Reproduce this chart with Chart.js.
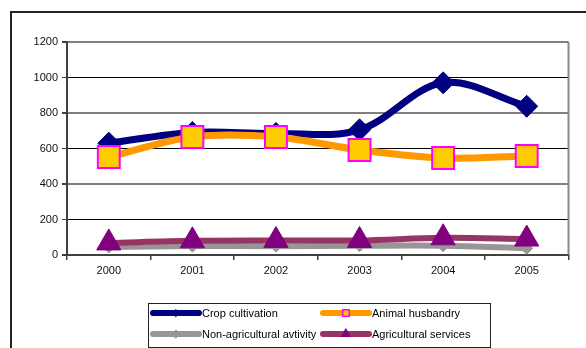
<!DOCTYPE html>
<html>
<head>
<meta charset="utf-8">
<script src="https://cdn.jsdelivr.net/npm/chart.js@4"></script>
<style>
  html, body { margin: 0; padding: 0; background: #fff; }
  #wrap { width: 586px; height: 348px; position: relative; }
</style>
</head>
<body>
<div id="wrap"><canvas id="chart" width="586" height="348"></canvas></div>
<script>
const years = ['2000', '2001', '2002', '2003', '2004', '2005'];
const cropCultivation = [630, 690, 685, 705, 970, 838];
const animalHusbandry = [552, 665, 665, 592, 546, 558];
const nonAgricultural = [45, 50, 50, 52, 52, 38];
const agriServices = [68, 80, 82, 82, 97, 90];
const yMin = 0, yMax = 1200, yStep = 200;

const FONT = '"Liberation Sans", Arial, sans-serif';

// outer frame + right border of the plot area
const framePlugin = {
    id: 'frame',
    beforeDraw(chart) {
        const ctx = chart.ctx;
        ctx.save();
        ctx.strokeStyle = '#222';
        ctx.lineWidth = 2;
        ctx.beginPath();
        ctx.moveTo(11, 348);
        ctx.lineTo(11, 12);
        ctx.lineTo(586, 12);
        ctx.stroke();
        ctx.restore();
    },
    afterDatasetsDraw(chart) {
        const a = chart.chartArea, ctx = chart.ctx;
        ctx.save();
        ctx.strokeStyle = '#888';
        ctx.lineWidth = 2;
        ctx.beginPath();
        ctx.moveTo(a.right, a.top);
        ctx.lineTo(a.right, a.bottom);
        ctx.stroke();
        ctx.restore();
    }
};

// legend box like the excel one: thick line sample with a small marker
const legendSizes = [3.5, 4.5, 4, 5];
const legendPlugin = {
    id: 'boxLegend',
    afterDraw(chart) {
        const ctx = chart.ctx;
        const box = { x: 148, y: 303, w: 342, h: 44 };
        ctx.save();
        ctx.strokeStyle = '#222';
        ctx.lineWidth = 1;
        ctx.strokeRect(box.x + 0.5, box.y + 0.5, box.w, box.h);
        const pos = [[150, 313], [320, 313], [150, 334], [320, 334]];
        chart.data.datasets.forEach((ds, i) => {
            const [x, y] = pos[i];
            ctx.save();
            ctx.strokeStyle = ds.borderColor;
            ctx.lineWidth = 6;
            ctx.lineCap = 'round';
            ctx.beginPath();
            ctx.moveTo(x + 3, y);
            ctx.lineTo(x + 49, y);
            ctx.stroke();
            ctx.fillStyle = ds.pointBackgroundColor;
            ctx.strokeStyle = ds.pointBorderColor;
            ctx.lineWidth = i === 1 ? 1.5 : 1;
            Chart.helpers.drawPoint(ctx, {
                pointStyle: ds.pointStyle,
                radius: legendSizes[i],
                borderWidth: ctx.lineWidth,
                rotation: 0
            }, x + 26, y);
            ctx.restore();
            ctx.fillStyle = '#000';
            ctx.font = '11px ' + FONT;
            ctx.textBaseline = 'middle';
            ctx.fillText(ds.label, x + 52, y + 1);
        });
        ctx.restore();
    }
};

const ctx = document.getElementById('chart');
new Chart(ctx, {
    type: 'line',
    data: {
        labels: years,
        datasets: [{
            label: 'Crop cultivation',
            data: cropCultivation,
            borderColor: '#000080',
            borderWidth: 7,
            pointStyle: 'rectRot',
            pointRadius: 11,
            pointBackgroundColor: '#000080',
            pointBorderColor: '#000080',
            pointBorderWidth: 1,
            order: 4
        }, {
            label: 'Animal husbandry',
            data: animalHusbandry,
            borderColor: '#FF9900',
            borderWidth: 7,
            pointStyle: 'rect',
            pointRadius: 15.5,
            pointBackgroundColor: '#FFCC00',
            pointBorderColor: '#FF00FF',
            pointBorderWidth: 2,
            order: 3
        }, {
            label: 'Non-agricultural avtivity',
            data: nonAgricultural,
            borderColor: '#969696',
            borderWidth: 6,
            pointStyle: 'rectRot',
            pointRadius: 6,
            pointBackgroundColor: '#969696',
            pointBorderColor: '#969696',
            pointBorderWidth: 1,
            order: 2
        }, {
            label: 'Agricultural services',
            data: agriServices,
            borderColor: '#993366',
            borderWidth: 6,
            pointStyle: 'triangle',
            pointRadius: 14,
            pointBackgroundColor: '#800080',
            pointBorderColor: '#800080',
            pointBorderWidth: 1,
            order: 1
        }]
    },
    options: {
        responsive: false,
        animation: false,
        events: [],
        layout: { padding: { left: 10, right: 13, top: 42, bottom: 0 } },
        elements: { line: { tension: 0.35, fill: false, borderCapStyle: 'round', borderJoinStyle: 'round' } },
        plugins: { legend: { display: false }, tooltip: { enabled: false } },
        scales: {
            x: {
                offset: true,
                grid: { offset: true, drawOnChartArea: false, drawTicks: true, tickLength: 5, tickColor: '#404040', lineWidth: 1.5 },
                border: { color: '#404040', width: 2 },
                ticks: { color: '#111', font: { family: FONT, size: 11 }, padding: 4 },
                afterFit(scale) { scale.height = 93; }
            },
            y: {
                min: yMin,
                max: yMax,
                ticks: {
                    stepSize: yStep,
                    color: '#111',
                    font: { family: FONT, size: 11 },
                    padding: 4,
                    callback: (v) => String(v)
                },
                grid: {
                    color: (c) => (c.tick && c.tick.value / yStep) % 2 === 0 ? '#808080' : '#000',
                    lineWidth: (c) => (c.tick && c.tick.value / yStep) % 2 === 0 ? 2 : 1,
                    tickColor: '#404040',
                    tickLength: 5
                },
                border: { color: '#404040', width: 2 },
                afterFit(scale) { scale.width = 57; }
            }
        }
    },
    plugins: [framePlugin, legendPlugin]
});
</script>
</body>
</html>
